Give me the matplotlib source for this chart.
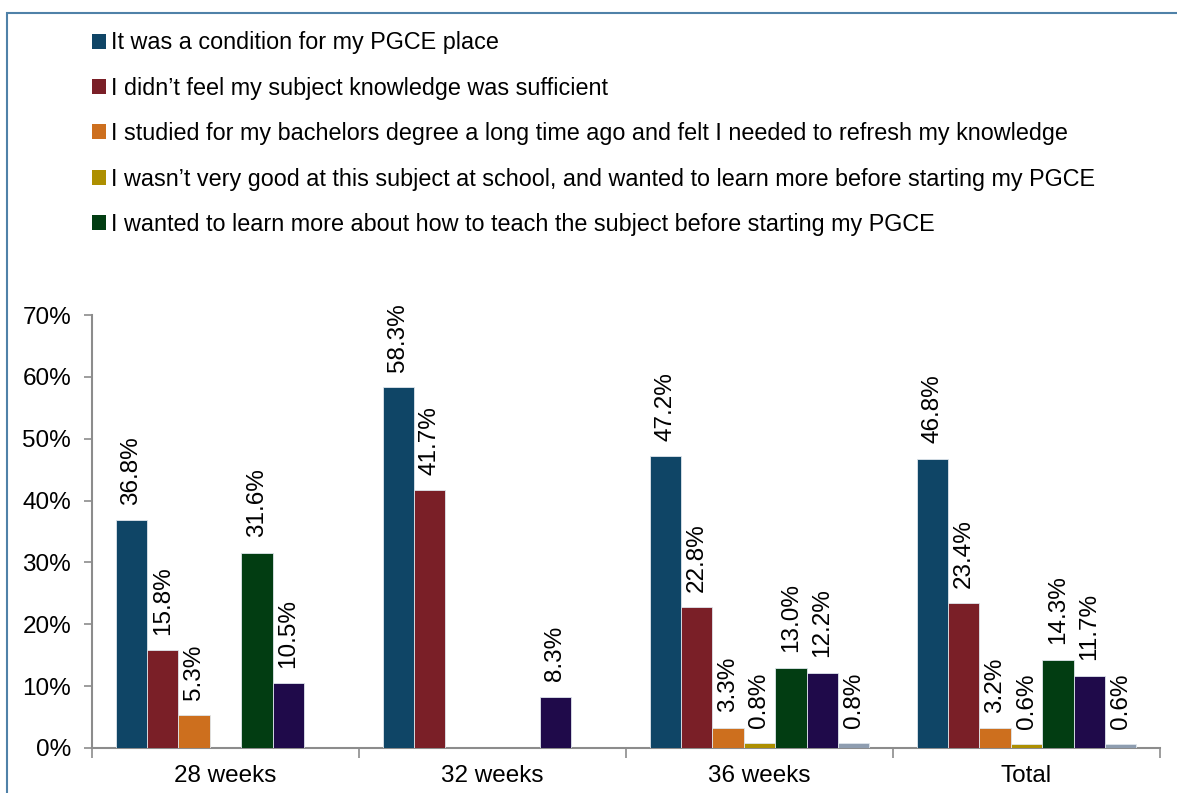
import numpy as np
import matplotlib
matplotlib.use("Agg")
import matplotlib.pyplot as plt
from matplotlib.patches import Rectangle, Patch
from matplotlib.ticker import PercentFormatter

plt.rcParams['font.family'] = ['Liberation Sans', 'DejaVu Sans']

# categorias e séries (valores em %)
categorias = ['28 weeks', '32 weeks', '36 weeks', 'Total']
legenda = [
    'It was a condition for my PGCE place',
    'I didn\u2019t feel my subject knowledge was sufficient',
    'I studied for my bachelors degree a long time ago and felt I needed to refresh my knowledge',
    'I wasn\u2019t very good at this subject at school, and wanted to learn more before starting my PGCE',
    'I wanted to learn more about how to teach the subject before starting my PGCE',
    'Other',
    'Other (not stated)',
]
condicao = [36.8, 58.3, 47.2, 46.8]
conhecimento = [15.8, 41.7, 22.8, 23.4]
bacharelado = [5.3, 0.0, 3.3, 3.2]
escola = [0.0, 0.0, 0.8, 0.6]
ensinar = [31.6, 0.0, 13.0, 14.3]
roxo = [10.5, 8.3, 12.2, 11.7]
cinza = [0.0, 0.0, 0.8, 0.6]

series = [condicao, conhecimento, bacharelado, escola, ensinar, roxo, cinza]
cores = ['#0f4566', '#7a1f27', '#cd6f1e', '#ad8f00', '#023d12', '#1f0a4a', '#8e9db0']

fig = plt.figure(figsize=(11.77, 7.93), dpi=100)
ax = fig.add_axes([92 / 1177, 1 - 748 / 793, (1160 - 92) / 1177, (748 - 315) / 793])

x = np.arange(len(categorias))
largura = 0.1175
n = len(series)
for i, (vals, cor) in enumerate(zip(series, cores)):
    pos = x + (i - (n - 1) / 2) * largura
    ax.bar(pos, vals, width=largura, color=cor, edgecolor='#dfe6ec', linewidth=0.6, zorder=3)
    for xp, v in zip(pos, vals):
        if v > 0:
            ax.annotate(f'{v:.1f}%', (xp, v), xytext=(0, 11), textcoords='offset points',
                        rotation=90, ha='center', va='bottom', fontsize=17.5, color='black')

ax.set_xlim(-0.5, len(categorias) - 0.5)
ax.set_ylim(0, 70)
ax.set_yticks(np.arange(0, 71, 10))
ax.yaxis.set_major_formatter(PercentFormatter(decimals=0))
ax.set_xticks(x)
ax.set_xticklabels(categorias)
ax.set_xticks(np.arange(-0.5, len(categorias)), minor=True)
ax.tick_params(axis='x', which='major', length=0, labelsize=17.5, pad=12)
ax.tick_params(axis='x', which='minor', length=7, color='#8c8c8c', width=1.2)
ax.tick_params(axis='y', length=6, color='#8c8c8c', width=1.2, labelsize=17.5, pad=9)

for lado in ['top', 'right']:
    ax.spines[lado].set_visible(False)
for lado in ['left', 'bottom']:
    ax.spines[lado].set_color('#8c8c8c')
    ax.spines[lado].set_linewidth(1.5)

# moldura externa (cortada à direita e embaixo)
fig.patches.append(Rectangle((7 / 1177, -0.1), 1.2, 1 - 13 / 793 + 0.1, transform=fig.transFigure,
                             fill=False, edgecolor='#4f81a8', linewidth=1.5))

handles = [Patch(facecolor=c, edgecolor='none') for c in cores[:5]]
fig.legend(handles, legenda[:5], loc='upper left', bbox_to_anchor=(83 / 1177, 1 - 22 / 793),
           frameon=False, fontsize=16.8, handlelength=0.6, handleheight=0.6,
           handletextpad=0.2, labelspacing=0.96, borderaxespad=0)

fig.savefig('out.png', dpi=100)
